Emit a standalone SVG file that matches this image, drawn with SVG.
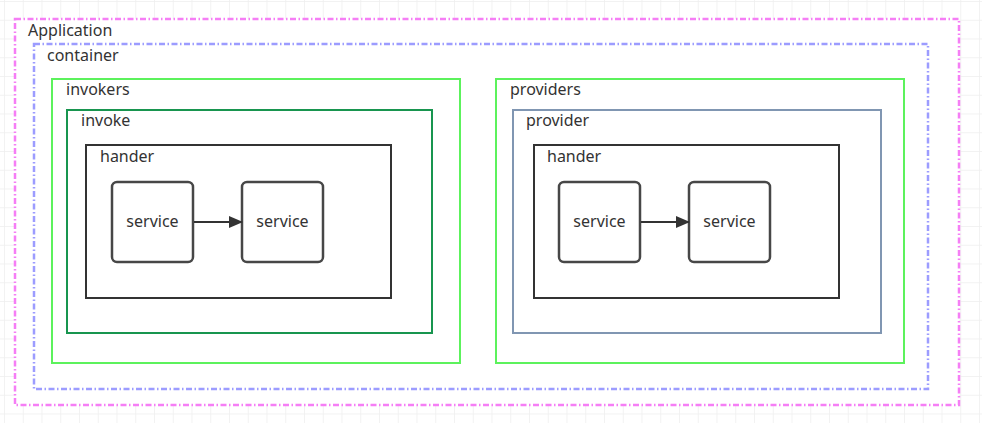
<svg xmlns="http://www.w3.org/2000/svg" width="982" height="423" viewBox="0 0 982 423">
<defs>
<pattern id="grid" x="4" y="1" width="18.75" height="18.75" patternUnits="userSpaceOnUse">
<path d="M0 0 H18.75 M0 0 V18.75" fill="none" stroke="#eeeeee" stroke-width="1.5"/>
</pattern>
<marker id="arr" viewBox="0 0 14 12" refX="13" refY="6" markerWidth="14" markerHeight="12" markerUnits="userSpaceOnUse" orient="auto">
<path d="M0 0 L14 6 L0 12 Z" fill="#333333"/>
</marker>
</defs>
<style>
.t{font-family:"Noto Sans","Open Sans","DejaVu Sans",sans-serif;font-size:16px;fill:#333333}
.c{text-anchor:middle}
.app{fill:none;stroke:#f57ef5;stroke-width:2.5;stroke-dasharray:6 2.5 1.5 2.5}
.cont{fill:none;stroke:#9c9cff;stroke-width:2.5;stroke-dasharray:6 2.5 1.5 2.5}
.grp{fill:#ffffff;stroke:#5cf25c;stroke-width:2}
.inv{fill:#ffffff;stroke:#18954f;stroke-width:2}
.prv{fill:#ffffff;stroke:#8096b2;stroke-width:2}
.hnd{fill:#ffffff;stroke:#333333;stroke-width:2}
.svc{fill:#ffffff;stroke:#474747;stroke-width:2.5}
.edge{fill:none;stroke:#333333;stroke-width:2}
</style>
<rect width="982" height="423" fill="#ffffff"/>
<rect width="982" height="423" fill="url(#grid)"/>
<g id="application">
<rect x="15" y="19" width="944" height="386" fill="#ffffff"/>
<rect class="app" x="15" y="19" width="944" height="386"/>
<text class="t" x="28" y="36">Application</text>
</g>
<g id="container">
<rect class="cont" x="34" y="44" width="894" height="345"/>
<text class="t" x="47" y="61">container</text>
</g>
<g id="invokers">
<rect class="grp" x="52" y="79" width="408" height="284"/>
<text class="t" x="66" y="95">invokers</text>
</g>
<g id="invoke">
<rect class="inv" x="67" y="110" width="365" height="223"/>
<text class="t" x="81" y="126">invoke</text>
</g>
<g id="hander1">
<rect class="hnd" x="86" y="145" width="305" height="153"/>
<text class="t" x="100" y="162">hander</text>
</g>
<g id="service1">
<rect class="svc" x="112" y="182" width="81" height="80" rx="5"/>
<text class="t c" x="152.5" y="227">service</text>
</g>
<g id="service2">
<rect class="svc" x="242" y="182" width="81" height="80" rx="5"/>
<text class="t c" x="282.5" y="227">service</text>
</g>
<g id="providers">
<rect class="grp" x="496" y="79" width="408" height="284"/>
<text class="t" x="510" y="95">providers</text>
</g>
<g id="provider">
<rect class="prv" x="513" y="110" width="368" height="223"/>
<text class="t" x="526" y="126">provider</text>
</g>
<g id="hander2">
<rect class="hnd" x="534" y="145" width="305" height="153"/>
<text class="t" x="547" y="162">hander</text>
</g>
<g id="service3">
<rect class="svc" x="559" y="182" width="81" height="80" rx="5"/>
<text class="t c" x="599.5" y="227">service</text>
</g>
<g id="service4">
<rect class="svc" x="689" y="182" width="81" height="80" rx="5"/>
<text class="t c" x="729.5" y="227">service</text>
</g>
<g id="connectors">
<path class="edge" d="M194 222 H242" marker-end="url(#arr)"/>
<path class="edge" d="M641 222 H689" marker-end="url(#arr)"/>
</g>
</svg>
